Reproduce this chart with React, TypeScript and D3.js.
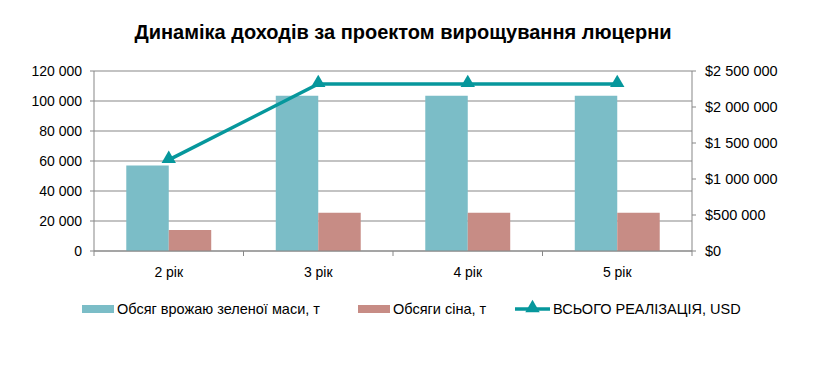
import React from "react";
import * as d3 from "d3";

const categories = ["2 рік", "3 рік", "4 рік", "5 рік"];
const greenMass = [57000, 103500, 103500, 103500];
const hay = [14000, 25500, 25500, 25500];
const totalUsd = [1265000, 2320000, 2320000, 2320000];
const leftTicks = [0, 20000, 40000, 60000, 80000, 100000, 120000];
const rightTicks = [0, 500000, 1000000, 1500000, 2000000, 2500000];

const seriesNames = ["Обсяг врожаю зеленої маси, т", "Обсяги сіна, т", "ВСЬОГО РЕАЛІЗАЦІЯ, USD"];

const W = 839;
const H = 370;
const left = 94;
const right = 692;
const top = 71;
const bottom = 251;

const TEAL = "#7bbdc7";
const ROSE = "#c78c85";
const LINE = "#06979c";
const GRID = "#878787";
const FONT = "'Liberation Sans', Arial, sans-serif";

const fmt = (v: number) => {
  // thousands separated by spaces, like the original
  return String(v).replace(/\B(?=(\d{3})+(?!\d))/g, " ");
};

export default function App() {
  const x = d3.scaleBand<string>().domain(categories).range([left, right]);
  const inner = d3
    .scaleBand<string>()
    .domain(["a", "b"])
    .range([0, x.bandwidth()])
    .paddingOuter(0.76);
  const yL = d3.scaleLinear().domain([0, 120000]).range([bottom, top]);
  const yR = d3.scaleLinear().domain([0, 2500000]).range([bottom, top]);

  const line = d3
    .line<number>()
    .x((_, i) => (x(categories[i]) as number) + x.bandwidth() / 2)
    .y((d) => yR(d));

  const tri = d3.symbol().type(d3.symbolTriangle).size(90);

  return (
    <svg width={W} height={H} style={{ display: "block", position: "absolute", left: 0, top: 0 }}>
      <rect width={W} height={H} fill="#fff" />
      <text x={403} y={39} textAnchor="middle" fontFamily={FONT} fontWeight="bold" fontSize={20} fill="#000">
        Динаміка доходів за проектом вирощування люцерни
      </text>

      {/* gridlines */}
      {leftTicks.map((t) => (
        <line key={t} x1={left} x2={right} y1={yL(t)} y2={yL(t)} stroke={GRID} strokeWidth={1} />
      ))}

      {/* left axis */}
      <line x1={left} x2={left} y1={top} y2={bottom} stroke={GRID} />
      {leftTicks.map((t) => (
        <g key={"l" + t}>
          <line x1={left - 4} x2={left} y1={yL(t)} y2={yL(t)} stroke={GRID} />
          <text x={left - 12} y={yL(t)} dy="0.35em" textAnchor="end" fontFamily={FONT} fontSize={14} fill="#000">
            {fmt(t)}
          </text>
        </g>
      ))}

      {/* right axis */}
      <line x1={right} x2={right} y1={top} y2={bottom} stroke={GRID} />
      {rightTicks.map((t) => (
        <g key={"r" + t}>
          <line x1={right} x2={right + 4} y1={yR(t)} y2={yR(t)} stroke={GRID} />
          <text x={right + 13} y={yR(t)} dy="0.35em" textAnchor="start" fontFamily={FONT} fontSize={14.5} fill="#000">
            {"$" + fmt(t)}
          </text>
        </g>
      ))}

      {/* bars */}
      {categories.map((c, i) => (
        <g key={c}>
          <rect
            x={(x(c) as number) + (inner("a") as number)}
            y={yL(greenMass[i])}
            width={inner.bandwidth()}
            height={bottom - yL(greenMass[i])}
            fill={TEAL}
          />
          <rect
            x={(x(c) as number) + (inner("b") as number)}
            y={yL(hay[i])}
            width={inner.bandwidth()}
            height={bottom - yL(hay[i])}
            fill={ROSE}
          />
        </g>
      ))}

      {/* bottom axis */}
      <line x1={left} x2={right} y1={bottom} y2={bottom} stroke={GRID} />
      {[...categories.map((c) => x(c) as number), right].map((px, i) => (
        <line key={"t" + i} x1={px} x2={px} y1={bottom} y2={bottom + 5} stroke={GRID} />
      ))}
      {categories.map((c) => (
        <text
          key={"x" + c}
          x={(x(c) as number) + x.bandwidth() / 2}
          y={277}
          textAnchor="middle"
          fontFamily={FONT}
          fontSize={14}
          fill="#000"
        >
          {c}
        </text>
      ))}

      {/* line series */}
      <path d={line(totalUsd) || ""} fill="none" stroke={LINE} strokeWidth={3.5} />
      {totalUsd.map((v, i) => (
        <path
          key={"m" + i}
          d={tri() || ""}
          transform={`translate(${(x(categories[i]) as number) + x.bandwidth() / 2},${yR(v) - 1})`}
          fill={LINE}
        />
      ))}

      {/* legend */}
      <g fontFamily={FONT} fontSize={14.5} fill="#000">
        <rect x={82} y={305} width={32} height={8} fill={TEAL} />
        <text x={117} y={309} dy="0.35em">{seriesNames[0]}</text>
        <rect x={358} y={305} width={32} height={8} fill={ROSE} />
        <text x={393} y={309} dy="0.35em">{seriesNames[1]}</text>
        <line x1={515} x2={550} y1={309} y2={309} stroke={LINE} strokeWidth={3.5} />
        <path d={tri() || ""} transform="translate(532.5,308)" fill={LINE} />
        <text x={553} y={309} dy="0.35em">{seriesNames[2]}</text>
      </g>
    </svg>
  );
}
